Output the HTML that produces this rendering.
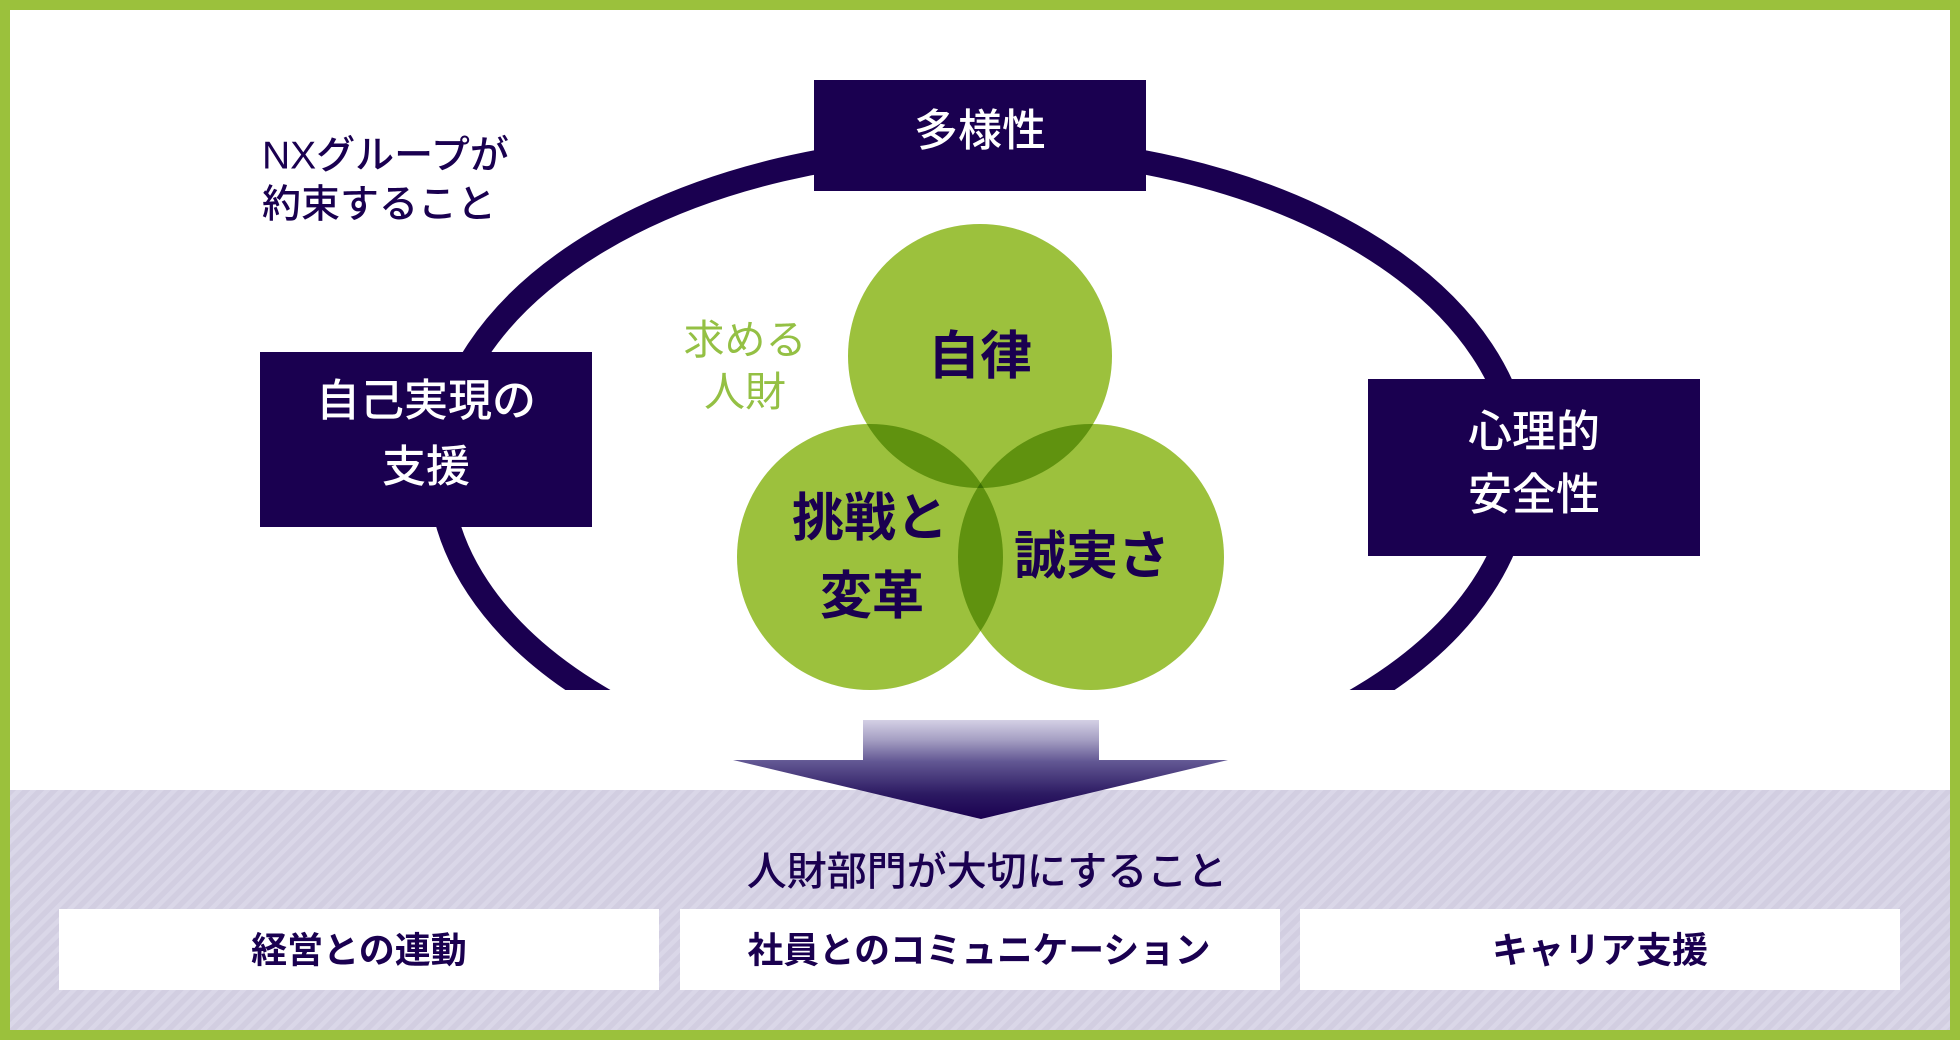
<!DOCTYPE html>
<html>
<head>
<meta charset="utf-8">
<style>
  html, body { margin:0; padding:0; background:#ffffff; }
  body { width:1960px; height:1040px; overflow:hidden; }
  svg { display:block; }
  text { font-family: "Liberation Sans", "Noto Sans CJK JP", sans-serif; }
</style>
</head>
<body>
<svg width="1960" height="1040" viewBox="0 0 1960 1040" xmlns="http://www.w3.org/2000/svg">
  <defs>
    <pattern id="stripes" width="10" height="10" patternUnits="userSpaceOnUse" patternTransform="rotate(45)">
      <rect x="0" y="0" width="10" height="10" fill="#d2cee1"/>
      <rect x="0" y="0" width="4.5" height="10" fill="#dad7e8"/>
    </pattern>
    <linearGradient id="arrowGrad" gradientUnits="userSpaceOnUse" x1="0" y1="720" x2="0" y2="819">
      <stop offset="0" stop-color="#d4d0e5"/>
      <stop offset="0.2" stop-color="#a59fc3"/>
      <stop offset="0.42" stop-color="#625793"/>
      <stop offset="0.75" stop-color="#2c1a62"/>
      <stop offset="1" stop-color="#1a0050"/>
    </linearGradient>
    <clipPath id="ellClip">
      <rect x="0" y="0" width="1960" height="690"/>
    </clipPath>
  </defs>

  <!-- green frame -->
  <rect x="0" y="0" width="1960" height="1040" fill="#9bc13c"/>
  <rect x="10" y="10" width="1940" height="1020" fill="#ffffff"/>

  <!-- lavender striped band -->
  <rect x="10" y="790" width="1940" height="240" fill="url(#stripes)"/>

  <!-- big ellipse ring -->
  <ellipse cx="980" cy="469" rx="540" ry="322" fill="none" stroke="#1a0050" stroke-width="24" clip-path="url(#ellClip)"/>

  <!-- green circles -->
  <g style="isolation:isolate">
    <circle cx="980" cy="356" r="132" fill="#9cc13d" style="mix-blend-mode:multiply"/>
    <circle cx="870" cy="557" r="133" fill="#9cc13d" style="mix-blend-mode:multiply"/>
    <circle cx="1091" cy="557" r="133" fill="#9cc13d" style="mix-blend-mode:multiply"/>
  </g>

  <!-- circle labels -->
  <g fill="#1a0050" font-size="52" font-weight="bold" text-anchor="middle" dominant-baseline="central">
    <text x="980" y="357">自律</text>
    <text x="870" y="519">挑戦と</text>
    <text x="872" y="597">変革</text>
    <text x="1092" y="557">誠実さ</text>
  </g>

  <!-- 求める人財 -->
  <g fill="#94c044" font-size="41" text-anchor="middle" dominant-baseline="central">
    <text x="745" y="340">求める</text>
    <text x="745" y="392">人財</text>
  </g>

  <!-- NXグループが約束すること -->
  <g fill="#1a0050" font-size="39" font-weight="500" dominant-baseline="central">
    <text x="262" y="156">NXグループが</text>
    <text x="262" y="205">約束すること</text>
  </g>

  <!-- dark boxes -->
  <rect x="814" y="80" width="332" height="111" fill="#1a0050"/>
  <rect x="260" y="352" width="332" height="175" fill="#1a0050"/>
  <rect x="1368" y="379" width="332" height="177" fill="#1a0050"/>

  <g fill="#ffffff" font-size="44" font-weight="500" text-anchor="middle" dominant-baseline="central">
    <text x="980" y="131">多様性</text>
    <text x="426" y="401">自己実現の</text>
    <text x="426" y="467">支援</text>
    <text x="1534" y="432">心理的</text>
    <text x="1534" y="495">安全性</text>
  </g>

  <!-- arrow -->
  <polygon points="863,720 1099,720 1099,760 1228,760 981,819 733,760 863,760" fill="url(#arrowGrad)"/>

  <!-- heading -->
  <text x="987" y="872" fill="#1a0050" font-size="40" font-weight="500" text-anchor="middle" dominant-baseline="central">人財部門が大切にすること</text>

  <!-- white boxes -->
  <rect x="59" y="909" width="600" height="81" fill="#ffffff"/>
  <rect x="680" y="909" width="600" height="81" fill="#ffffff"/>
  <rect x="1300" y="909" width="600" height="81" fill="#ffffff"/>

  <g fill="#1a0050" font-size="36" font-weight="bold" text-anchor="middle" dominant-baseline="central">
    <text x="359" y="950">経営との連動</text>
    <text x="979" y="950" textLength="463" lengthAdjust="spacingAndGlyphs">社員とのコミュニケーション</text>
    <text x="1600" y="950">キャリア支援</text>
  </g>
</svg>
</body>
</html>
